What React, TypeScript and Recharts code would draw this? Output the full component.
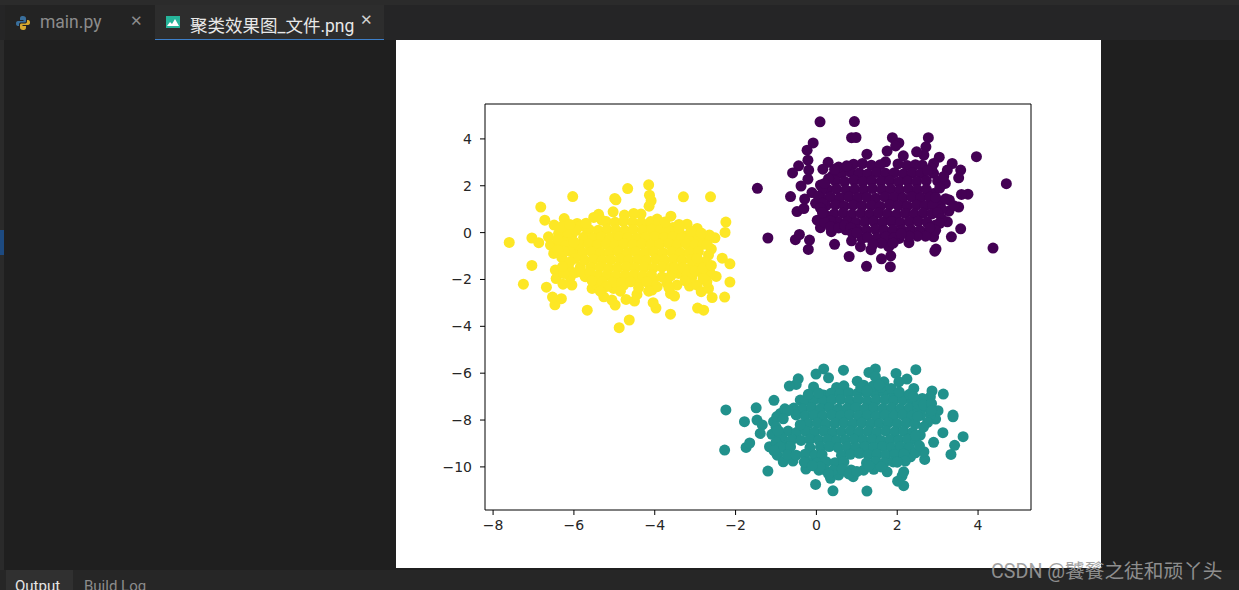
import React from 'react';
import { ScatterChart, Scatter, XAxis, YAxis, ReferenceArea } from 'recharts';

const xTicks = [-8, -6, -4, -2, 0, 2, 4];
const yTicks = [-10, -8, -6, -4, -2, 0, 2, 4];
const xDomain = [-8.2, 5.31];
const yDomain = [-11.84, 5.49];

const purplePoints = [
  [-1.46,1.89],[-1.2,-0.23],[0.09,4.73],[0.94,4.74],[0.87,4.05],[0.98,4.06],[-0.08,3.83],[-0.23,3.52],[-0.21,3.09],[-0.19,2.67],
  [-0.21,2.28],[-0.38,1.99],[-0.44,2.85],[-0.59,2.55],[-0.64,1.54],[-0.29,1.43],[-0.48,0.9],[-0.31,1.03],[-0.52,-0.3],[-0.42,-0.08],
  [-0.17,-0.32],[-0.2,-0.72],[0.45,-0.5],[0.81,-1.02],[1.24,-1.44],[1.83,-1.46],[1.61,-1.12],[1.84,-0.99],[1.35,-0.73],[1.09,-0.6],
  [0.87,-0.35],[0.73,0.12],[0.37,0.04],[0.1,0.21],[0.02,0.53],[2.93,-0.79],[2.96,-0.7],[3.34,-0.18],[3.57,0.16],[4.37,-0.66],
  [4.7,2.09],[3.96,3.24],[3.75,1.64],[3.59,1.63],[3.52,1.09],[3.29,1.39],[3.24,0.46],[3.28,0.92],[3.57,2.67],[3.52,2.34],
  [3.36,2.95],[3.24,2.67],[3.19,2.1],[3.04,3.22],[2.77,4.05],[2.71,3.66],[2.66,3.31],[2.48,3.45],[1.88,4.05],[2.04,3.83],
  [1.96,3.7],[1.75,3.48],[2.15,3.28],[1.25,3.35],[1.71,3.02],[0.29,3.0],[0.16,2.71],[0.4,2.43],[0.68,2.67],[0.1,2.03],
  [-0.11,1.71],[-0.02,1.25],[0.22,0.75],[2.9,2.95],[2.62,2.88],[2.9,2.53],[2.9,1.67],[3.07,1.25],[2.95,0.32],[2.9,-0.18],
  [2.7,-0.03],[2.29,-0.43],[2.05,-0.25],[1.79,-0.6],[1.13,-0.25],
  [0.92,2.92],[1.14,2.95],[1.36,2.88],[1.58,2.9],[2.02,2.93],[2.24,2.87],[2.45,2.9],
  [0.62,2.52],[0.84,2.58],[1.06,2.55],[1.27,2.5],[1.49,2.57],[1.71,2.53],[1.93,2.56],[2.15,2.5],[2.37,2.55],[2.59,2.52],
  [0.47,2.2],[0.7,2.18],[0.93,2.23],[1.15,2.17],[1.37,2.21],[1.6,2.19],[1.82,2.22],[2.04,2.16],[2.26,2.2],[2.48,2.18],[2.72,2.22],
  [0.28,1.85],[0.5,1.87],[0.73,1.82],[0.95,1.86],[1.17,1.83],[1.39,1.88],[1.62,1.84],[1.84,1.86],[2.06,1.81],[2.28,1.87],[2.5,1.83],[2.72,1.85],
  [0.12,1.5],[0.35,1.52],[0.58,1.48],[0.8,1.53],[1.02,1.49],[1.25,1.51],[1.47,1.47],[1.7,1.52],[1.92,1.5],[2.14,1.48],[2.36,1.53],[2.58,1.49],[2.8,1.51],
  [0.24,1.15],[0.47,1.18],[0.69,1.13],[0.91,1.17],[1.13,1.14],[1.36,1.16],[1.58,1.12],[1.81,1.18],[2.03,1.15],[2.25,1.13],[2.47,1.17],[2.69,1.14],[2.88,1.16],
  [0.44,0.8],[0.66,0.83],[0.88,0.78],[1.1,0.82],[1.32,0.79],[1.54,0.84],[1.76,0.8],[1.98,0.77],[2.2,0.82],[2.42,0.79],[2.64,0.83],[2.86,0.8],
  [0.54,0.45],[0.76,0.47],[0.98,0.43],[1.2,0.46],[1.42,0.48],[1.64,0.44],[1.86,0.47],[2.08,0.43],[2.3,0.46],[2.52,0.48],[2.74,0.44],
  [1.02,0.12],[1.24,0.1],[1.46,0.14],[1.68,0.09],[1.9,0.12],[2.12,0.1],[2.34,0.13],[2.56,0.09],
  [1.27,-0.2],[1.5,-0.22],[1.72,-0.18],[1.92,-0.22],
  [0.15,1.9],[0.05,1.55],[0.15,1.25],[0.3,2.3],[0.2,2.1],[0.1,1.05],[0.35,0.5],[0.2,0.45],[0.15,0.85],[0.35,0.25],
  [0.55,0.2],[0.7,0.3],[0.85,0.2],[0.9,-0.05],[1.0,0.0],[0.55,2.8],[0.75,2.85],[0.45,2.7],[3.0,2.2],[3.05,1.9],
  [2.95,1.5],[3.1,1.0],[3.0,0.85],[3.1,0.6],[3.05,0.4],[2.95,0.1],[2.8,0.2],[2.7,-0.15],[2.5,-0.15],[2.3,-0.15],
  [2.1,-0.05],[1.9,-0.45],[1.6,-0.45],[1.4,-0.5],[3.15,2.4],[2.85,2.75],[2.75,2.65],[3.2,1.45],[3.4,1.15],
];

const tealPoints = [
  [-2.24,-7.57],[-2.27,-9.28],[-1.78,-8.07],[-1.49,-7.48],[-1.47,-8.0],[-1.34,-8.21],[-1.39,-8.57],[-1.05,-7.16],[-1.74,-9.17],[-1.65,-8.98],
  [-1.2,-10.18],[-1.16,-9.14],[-0.02,-10.75],[0.41,-11.02],[1.25,-11.03],[2.16,-10.8],[2.01,-10.61],[2.12,-10.38],[2.16,-10.21],[1.75,-10.21],
  [2.68,-9.68],[2.66,-9.35],[2.9,-8.95],[3.13,-8.54],[3.33,-9.47],[3.42,-9.08],[3.63,-8.71],[3.38,-7.79],[3.38,-7.86],[3.01,-7.6],
  [2.95,-7.96],[3.14,-6.89],[2.86,-6.76],[2.82,-7.01],[2.62,-7.08],[2.41,-6.65],[2.46,-5.85],[2.24,-6.25],[1.97,-6.01],[2.04,-6.37],
  [1.46,-5.82],[1.3,-5.97],[1.46,-6.15],[1.67,-6.37],[0.67,-5.87],[0.18,-5.82],[-0.01,-6.04],[0.3,-6.2],[-0.45,-6.24],[-0.5,-6.48],
  [-0.67,-6.55],[-0.07,-6.59],[0.5,-6.61],[0.68,-6.54],[1.01,-6.34],[1.17,-6.51],[2.16,-7.01],[-0.4,-7.15],[0.18,-6.93],[-0.89,-7.72],
  [-1.06,-8.07],[-1.1,-8.61],[-0.97,-9.5],[-0.82,-9.78],[-0.58,-9.75],[-0.26,-10.09],[0.06,-10.14],[0.35,-10.49],[0.55,-10.35],[0.91,-10.42],
  [1.17,-10.14],[2.33,-9.57],[2.08,-9.64],[2.57,-8.64],[2.82,-7.79],
  [0.36,-6.86],[0.58,-6.88],[0.8,-6.83],[1.02,-6.86],[1.24,-6.84],[1.46,-6.87],[1.68,-6.83],[1.9,-6.86],
  [-0.28,-7.17],[-0.06,-7.14],[0.16,-7.18],[0.38,-7.15],[0.6,-7.12],[0.82,-7.17],[1.04,-7.14],[1.26,-7.18],[1.48,-7.15],[1.7,-7.13],[1.92,-7.17],[2.14,-7.14],[2.36,-7.16],
  [-0.78,-7.52],[-0.56,-7.49],[-0.34,-7.53],[-0.12,-7.48],[0.1,-7.51],[0.32,-7.48],[0.54,-7.52],[0.76,-7.5],[0.98,-7.47],[1.2,-7.52],[1.42,-7.49],[1.64,-7.51],[1.86,-7.48],[2.08,-7.52],[2.3,-7.49],[2.52,-7.5],[2.72,-7.47],
  [-0.5,-7.78],[-0.28,-7.82],[-0.06,-7.8],[0.16,-7.83],[0.38,-7.79],[0.6,-7.82],[0.82,-7.78],[1.04,-7.83],[1.26,-7.8],[1.48,-7.84],[1.7,-7.79],[1.92,-7.82],[2.14,-7.78],[2.36,-7.83],[2.58,-7.8],
  [-0.2,-8.16],[0.02,-8.13],[0.24,-8.17],[0.46,-8.14],[0.68,-8.12],[0.9,-8.16],[1.12,-8.13],[1.34,-8.17],[1.56,-8.15],[1.78,-8.12],[2.0,-8.16],[2.22,-8.13],[2.44,-8.17],
  [-0.92,-8.5],[-0.7,-8.47],[-0.48,-8.52],[-0.26,-8.48],[-0.04,-8.51],[0.18,-8.47],[0.4,-8.52],[0.62,-8.49],[0.84,-8.46],[1.06,-8.51],[1.28,-8.48],[1.5,-8.52],[1.72,-8.47],[1.94,-8.5],[2.16,-8.48],[2.38,-8.52],
  [-0.82,-8.85],[-0.6,-8.83],[-0.38,-8.87],[-0.16,-8.82],[0.06,-8.86],[0.28,-8.83],[0.5,-8.87],[0.72,-8.84],[0.94,-8.82],[1.16,-8.86],[1.38,-8.83],[1.6,-8.87],[1.82,-8.84],[2.04,-8.86],[2.26,-8.82],[2.46,-8.85],
  [-0.82,-9.17],[-0.64,-9.14],[-0.16,-9.18],[0.1,-9.15],[0.32,-9.13],[0.54,-9.18],[0.76,-9.15],[0.98,-9.18],[1.2,-9.14],[1.42,-9.17],[1.64,-9.13],[1.86,-9.17],[2.08,-9.14],[2.3,-9.17],
  [-0.72,-9.48],[-0.5,-9.5],[-0.28,-9.46],[-0.04,-9.5],[0.14,-9.47],[0.62,-9.5],[0.84,-9.46],[1.06,-9.42],[1.28,-9.49],[1.5,-9.46],[1.72,-9.5],[1.94,-9.47],[2.16,-9.45],
  [-0.2,-9.8],[0.02,-9.83],[0.24,-9.78],[0.46,-9.82],[0.68,-9.79],[1.24,-9.83],[1.46,-9.78],[1.68,-9.82],[1.9,-9.79],
  [0.2,-10.12],[0.42,-10.14],[0.64,-10.1],[0.86,-10.13],[1.42,-10.1],
  [-0.7,-7.6],[-0.98,-7.85],[-0.82,-7.95],[-1.0,-8.3],[-0.4,-8.2],[-0.9,-8.7],[-1.0,-8.95],[-0.9,-9.15],[-1.05,-9.3],[-0.95,-8.45],
  [2.6,-7.3],[2.5,-7.85],[2.75,-8.1],[2.65,-8.3],[2.45,-8.65],[0.1,-10.0],[0.3,-10.3],[0.8,-10.3],[1.0,-10.2],[1.3,-9.95],
  [1.6,-10.0],[2.2,-9.75],[2.0,-9.8],[2.45,-9.4],[2.55,-9.1],[-0.3,-9.8],[-0.1,-9.95],[-0.2,-6.9],[0.05,-6.85],[1.1,-6.6],
  [1.4,-6.55],[1.6,-6.6],[1.85,-6.65],[1.25,-6.75],[2.05,-6.8],[2.3,-6.9],[1.55,-6.5],[2.5,-7.3],[2.4,-7.0],[2.65,-7.35],[2.85,-7.3],[2.85,-7.6],
];

const yellowPoints = [
  [-7.6,-0.42],[-7.04,-0.23],[-6.87,-0.43],[-6.82,1.09],[-6.72,0.53],[-6.03,1.54],[-4.67,1.88],[-4.99,1.46],[-4.96,1.4],[-4.15,2.04],
  [-4.13,1.6],[-4.09,1.36],[-4.14,1.13],[-3.29,1.53],[-2.62,1.53],[-2.24,0.45],[-2.26,0.01],[-2.51,-0.22],[-2.33,-1.09],[-2.14,-1.33],
  [-2.14,-2.11],[-2.27,-2.75],[-2.58,-2.77],[-2.48,-1.87],[-2.94,-3.22],[-2.79,-3.31],[-3.61,-3.48],[-3.97,-3.22],[-4.04,-2.99],[-4.63,-3.73],
  [-4.88,-4.06],[-5.67,-3.31],[-6.47,-3.08],[-6.31,-2.82],[-6.53,-2.75],[-7.25,-2.2],[-7.04,-1.4],[-6.68,-2.33],[-4.98,-3.09],
  [-6.63,-0.18],[-6.58,-0.53],[-6.5,-0.89],[-6.3,-1.06],[-6.46,-1.6],[-6.13,-1.53],[-6.44,-1.96],[-6.09,-1.91],[-6.27,-2.2],[-6.05,-2.24],[-6.34,-0.49],
  [-6.19,-0.25],[-6.15,0.18],[-5.92,0.39],[-6.24,0.6],[-6.49,0.32],[-6.38,-0.04],[-5.84,0.28],[-6.05,-0.1],[-5.97,-0.75],[-5.84,-1.46],
  [-5.72,-1.88],[-5.55,-2.38],[-5.43,-2.24],[-5.26,-2.74],[-5.06,-2.88],[-5.02,-2.38],[-4.77,-2.24],[-4.71,-2.85],[-4.5,-2.92],[-4.44,-2.64],
  [-4.4,-2.1],[-4.07,-2.45],[-3.94,-2.31],[-4.03,-2.03],[-3.82,-1.89],[-3.61,-2.6],[-3.51,-2.71],[-3.45,-2.24],[-3.41,-1.74],[-3.14,-2.28],
  [-2.95,-2.24],[-2.85,-2.52],[-2.67,-2.38],[-3.08,-1.89],[-2.62,-1.74],[-2.71,-2.1],[-2.91,-1.39],[-2.67,-0.96],[-2.75,-1.24],[-3.12,-1.53],
  [-2.75,-0.25],[-2.95,0.18],[-3.2,0.36],[-3.23,-0.14],[-3.55,0.22],[-3.74,0.18],[-3.6,0.7],[-3.94,0.58],[-4.11,0.32],[-4.34,0.79],
  [-4.52,0.82],[-4.75,0.75],[-5.03,0.89],[-5.39,0.78],[-5.51,0.65],[-5.31,0.53],[-5.68,0.18],
  [-5.2,0.47],[-4.98,0.44],[-4.77,0.48],[-4.55,0.45],[-4.33,0.43],[-4.1,0.47],[-3.9,0.44],
  [-5.62,0.13],[-5.4,0.1],[-5.18,0.14],[-4.96,0.11],[-4.74,0.09],[-4.53,0.13],[-4.3,0.1],[-4.08,0.14],[-3.86,0.11],[-3.63,0.08],[-3.4,0.12],
  [-5.76,-0.2],[-5.54,-0.23],[-5.32,-0.19],[-5.1,-0.22],[-4.88,-0.18],[-4.66,-0.21],[-4.44,-0.24],[-4.22,-0.2],[-4.0,-0.17],[-3.78,-0.22],[-3.56,-0.19],[-3.34,-0.23],[-3.12,-0.2],[-2.9,-0.18],
  [-5.86,-0.52],[-5.64,-0.49],[-5.42,-0.53],[-5.2,-0.5],[-4.98,-0.54],[-4.76,-0.48],[-4.54,-0.52],[-4.32,-0.49],[-4.1,-0.53],[-3.88,-0.5],[-3.66,-0.47],[-3.44,-0.52],[-3.22,-0.49],[-3.0,-0.53],[-2.8,-0.5],
  [-5.78,-0.85],[-5.56,-0.82],[-5.34,-0.87],[-5.12,-0.84],[-4.9,-0.81],[-4.68,-0.86],[-4.46,-0.83],[-4.24,-0.87],[-4.02,-0.82],[-3.8,-0.85],[-3.58,-0.83],[-3.36,-0.87],[-3.14,-0.84],[-2.92,-0.81],
  [-5.74,-1.17],[-5.52,-1.14],[-5.3,-1.18],[-5.08,-1.15],[-4.86,-1.13],[-4.64,-1.18],[-4.42,-1.15],[-4.2,-1.19],[-3.98,-1.14],[-3.76,-1.17],[-3.54,-1.14],[-3.32,-1.18],[-3.1,-1.16],
  [-5.58,-1.5],[-5.36,-1.47],[-5.14,-1.52],[-4.92,-1.49],[-4.7,-1.46],[-4.48,-1.51],[-4.26,-1.48],[-4.04,-1.52],[-3.82,-1.47],[-3.6,-1.5],
  [-5.4,-1.83],[-5.18,-1.8],[-4.96,-1.84],[-4.74,-1.81],[-4.52,-1.79],[-4.3,-1.84],[-4.08,-1.81],
  [-5.05,-2.12],[-4.82,-2.14],[-4.6,-2.1],
  [-6.4,-0.3],[-6.2,-0.55],[-6.1,-0.8],[-6.25,-0.8],[-6.4,-0.75],[-6.0,-0.4],[-6.15,0.0],[-5.95,0.1],[-6.3,0.25],[-6.1,0.35],
  [-5.7,0.4],[-5.98,-1.1],[-6.1,-1.25],[-5.95,-1.7],[-6.25,-1.75],[-6.28,-1.45],[-5.8,-1.7],[-5.6,-1.7],[-5.55,-2.05],[-5.3,-2.1],
  [-5.2,-2.3],[-5.35,-2.5],[-4.85,-2.5],[-4.4,-2.35],[-4.2,-2.1],[-4.15,-2.5],[-3.7,-2.15],[-3.6,-1.85],[-3.5,-1.5],[-3.3,-1.5],
  [-3.2,-1.8],[-3.25,-2.05],[-3.0,-1.65],[-2.85,-1.7],[-2.8,-1.95],[-2.95,-1.1],[-2.8,-1.5],[-2.6,-1.4],[-2.6,-0.7],[-2.7,-0.5],
  [-2.65,-0.1],[-3.1,0.05],[-2.85,-0.02],[-3.4,0.35],[-3.75,0.45],[-3.65,-2.35],
];

const toRows = (points: number[][]) => points.map(([x, y]) => ({ x, y }));
const minusSign = (v: number) => String(v).replace('-', '\u2212');

const tickStyle = { fontFamily: 'DejaVu Sans', fontSize: 14, fill: '#262626' };

const box = (style: React.CSSProperties): React.CSSProperties => ({ position: 'absolute', ...style });

const Dot = ({ cx, cy, fill }: any) => <circle cx={cx} cy={cy} r={5.5} fill={fill} />;

const PythonIcon = () => (
  <svg width="16" height="16" viewBox="0 0 16 16" style={box({ left: 15, top: 15 })}>
    <path d="M8 1C5 1 5 2.5 5 4v1h3.5v1H3C1.500 6 1 7 1 8.500S1.500 11 3 11h1V9.500C4 8 5 7.500 6.500 7.500h3C10.500 7.500 11 7 11 6V3.500C11 2 10 1 8 1z" fill="#3a6f9c" />
    <path d="M8 15c3 0 3-1.500 3-3v-1H7.500v-1H13c1.500 0 2-1 2-2.500S14.500 5 13 5h-1v1.500C12 8 11 8.500 9.500 8.500h-3C5.500 8.500 5 9 5 10v2.500C5 14 6 15 8 15z" fill="#d6a92f" />
  </svg>
);

const ImageIcon = () => (
  <svg width="14" height="12" viewBox="0 0 14 12" style={box({ left: 166, top: 16 })}>
    <rect width="14" height="12" fill="#26b49a" />
    <path d="M1 10l3-4 2 2 3-5 4 7z" fill="#fff" />
  </svg>
);

export default function App() {
  return (
    <div style={box({ position: 'fixed', left: 0, top: 0, width: 1239, height: 590, background: '#1f1f1f', overflow: 'hidden', fontFamily: 'Roboto, "Noto Sans CJK SC", sans-serif' })}>
      <div style={box({ left: 0, top: 0, width: 1239, height: 5, background: '#2b2b2b' })} />
      <div style={box({ left: 0, top: 5, width: 1239, height: 35, background: '#252526' })} />
      <div style={box({ left: 0, top: 40, width: 4, height: 530, background: '#2a2a2a' })} />
      <div style={box({ left: 0, top: 230, width: 4, height: 25, background: '#1d4a80' })} />
      <div style={box({ left: 5, top: 5, width: 150, height: 35, background: '#232323' })} />
      <div style={box({ left: 155, top: 5, width: 229, height: 34, background: '#2d2d2d' })} />
      <div style={box({ left: 155, top: 39, width: 229, height: 1, background: '#3d7fc9' })} />
      <PythonIcon />
      <div style={box({ left: 40, top: 12, fontSize: 17.5, color: '#8c8c8c' })}>main.py</div>
      <div style={box({ left: 130, top: 12, fontSize: 15, color: '#8c8c8c' })}>{'\u2715'}</div>
      <ImageIcon />
      <div style={box({ left: 190, top: 12, fontSize: 17.5, color: '#e8e8e8', whiteSpace: 'nowrap' })}>聚类效果图_文件.png</div>
      <div style={box({ left: 360, top: 11, fontSize: 15, color: '#d0d0d0' })}>{'\u2715'}</div>

      <div style={box({ left: 396, top: 40, width: 705, height: 528, background: '#ffffff' })}>
        <ScatterChart width={705} height={528} margin={{ top: 64, right: 70, bottom: 28, left: 39 }}>
          <XAxis
            type="number"
            dataKey="x"
            domain={xDomain}
            ticks={xTicks}
            allowDataOverflow
            tickFormatter={minusSign}
            height={30}
            tickSize={5}
            tickMargin={5}
            axisLine={false}
            tickLine={{ stroke: '#000' }}
            tick={tickStyle}
            interval={0}
          />
          <YAxis
            type="number"
            dataKey="y"
            domain={yDomain}
            ticks={yTicks}
            allowDataOverflow
            tickFormatter={minusSign}
            width={50}
            tickSize={5}
            tickMargin={8}
            axisLine={false}
            tickLine={{ stroke: '#000' }}
            tick={tickStyle}
            interval={0}
          />
          <ReferenceArea x1={xDomain[0]} x2={xDomain[1]} y1={yDomain[0]} y2={yDomain[1]} fill="none" stroke="#000" strokeWidth={1} />
          <Scatter data={toRows(purplePoints)} fill="#440154" shape={<Dot />} isAnimationActive={false} />
          <Scatter data={toRows(tealPoints)} fill="#21918c" shape={<Dot />} isAnimationActive={false} />
          <Scatter data={toRows(yellowPoints)} fill="#fde725" shape={<Dot />} isAnimationActive={false} />
        </ScatterChart>
      </div>

      <div style={box({ left: 0, top: 570, width: 1239, height: 20, background: '#262626' })} />
      <div style={box({ left: 6, top: 570, width: 67, height: 20, background: '#303030' })} />
      <div style={box({ left: 15, top: 577, fontSize: 15, color: '#e6e6e6' })}>Output</div>
      <div style={box({ left: 84, top: 577, fontSize: 15, color: '#8c8c8c' })}>Build Log</div>
      <div style={box({ left: 991, top: 555, fontSize: 19.7, color: '#9a9a9a', whiteSpace: 'nowrap', opacity: 0.9 })}>CSDN @饕餮之徒和顽丫头</div>
    </div>
  );
}
